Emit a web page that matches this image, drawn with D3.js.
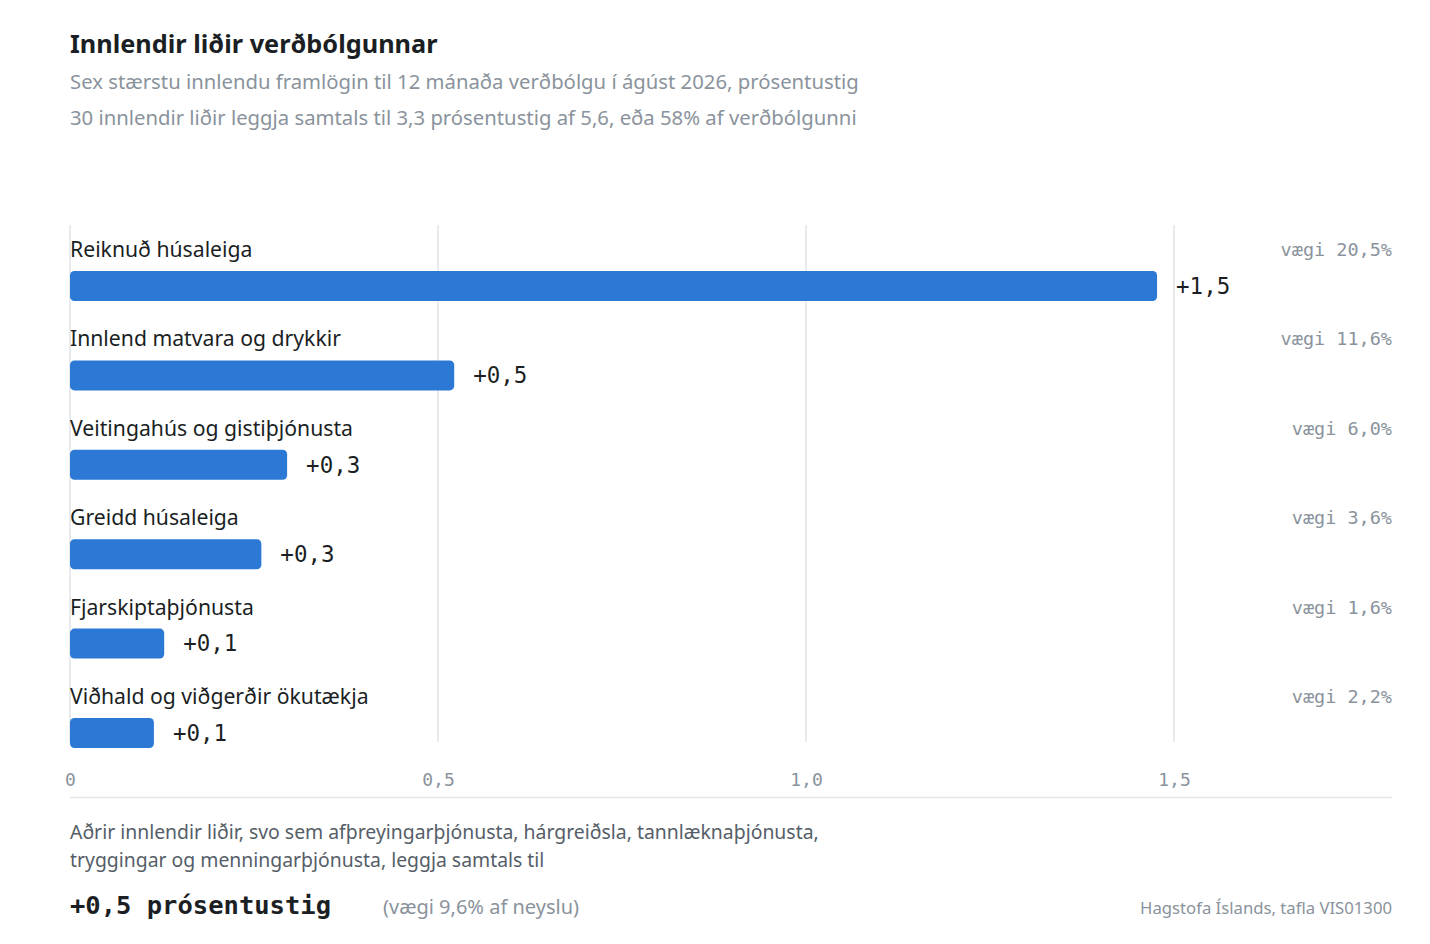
<!DOCTYPE html>
<html><head><meta charset="utf-8">
<script src="https://cdn.jsdelivr.net/npm/d3@7"></script>
<style>
body{margin:0;background:#fff;}
svg{display:block;}
</style></head>
<body>
<svg id="chart" width="1430" height="944"></svg>
<script>
const categories = ["Reiknuð húsaleiga","Innlend matvara og drykkir","Veitingahús og gistiþjónusta","Greidd húsaleiga","Fjarskiptaþjónusta","Viðhald og viðgerðir ökutækja"];
const values = [1.477, 0.522, 0.295, 0.26, 0.128, 0.114];
const valueLabels = ["+1,5","+0,5","+0,3","+0,3","+0,1","+0,1"];
const weights = ["vægi 20,5%","vægi 11,6%","vægi 6,0%","vægi 3,6%","vægi 1,6%","vægi 2,2%"];
const ticks = [0, 0.5, 1.0, 1.5];
const tickLabels = ["0","0,5","1,0","1,5"];

const SANS = "'Noto Sans', 'Open Sans', sans-serif";
const MONO = "'DejaVu Sans Mono', 'Liberation Mono', monospace";
const svg = d3.select("#chart");
const left = 70, right = 1392;

const x = d3.scaleLinear().domain([0, 1.8]).range([left, left + 1.8*736]);
const y = d3.scaleBand().domain(categories).range([233, 233 + 6*89.4]).paddingInner(0);

// Title block
svg.append("text").attr("x", left).attr("y", 53).text("Innlendir liðir verðbólgunnar")
  .attr("font-family", SANS).attr("font-size", 25.3).attr("font-weight", 700).attr("fill", "#1b1f24");
svg.append("text").attr("x", left).attr("y", 89).text("Sex stærstu innlendu framlögin til 12 mánaða verðbólgu í ágúst 2026, prósentustig")
  .attr("font-family", SANS).attr("font-size", 20.3).attr("fill", "#8a939c");
svg.append("text").attr("x", left).attr("y", 125).text("30 innlendir liðir leggja samtals til 3,3 prósentustig af 5,6, eða 58% af verðbólgunni")
  .attr("font-family", SANS).attr("font-size", 20.3).attr("fill", "#8a939c");

// Gridlines
svg.append("g").selectAll("line").data(ticks).join("line")
  .attr("x1", d => x(d)).attr("x2", d => x(d))
  .attr("y1", 225).attr("y2", 742)
  .attr("stroke", "#e1e4e8").attr("stroke-width", 1.5);

// Axis
const axis = d3.axisBottom(x).tickValues(ticks).tickFormat((d,i) => tickLabels[i]).tickSize(0).tickPadding(0);
const ag = svg.append("g").attr("transform", "translate(0,786)").call(axis);
ag.select(".domain").remove();
ag.selectAll("text").attr("font-family", MONO).attr("font-size", 18).attr("fill", "#8a939c").attr("dy", 0);
svg.append("line").attr("x1", left).attr("x2", right).attr("y1", 797.5).attr("y2", 797.5)
  .attr("stroke", "#e1e4e8").attr("stroke-width", 1.5);

// Rows
const rows = svg.append("g").selectAll("g").data(categories).join("g")
  .attr("transform", d => `translate(0,${y(d)})`);

rows.append("text").attr("x", left).attr("y", 24).text(d => d)
  .attr("font-family", SANS).attr("font-size", 21.2).attr("fill", "#1b1f24");

rows.append("text").attr("x", right).attr("y", 23).attr("text-anchor", "end").text((d,i) => weights[i])
  .attr("font-family", MONO).attr("font-size", 18.5).attr("fill", "#8a939c");

rows.append("rect").attr("x", x(0)).attr("y", 38).attr("height", 30)
  .attr("width", (d,i) => x(values[i]) - x(0)).attr("rx", 4.5).attr("ry", 4.5)
  .attr("fill", "#2b78d5");

rows.append("text").attr("x", (d,i) => x(values[i]) + 19).attr("y", 53).attr("dy", "0.35em")
  .text((d,i) => valueLabels[i])
  .attr("font-family", MONO).attr("font-size", 22.5).attr("fill", "#1b1f24");

// Footer
svg.append("text").attr("x", left).attr("y", 839).text("Aðrir innlendir liðir, svo sem afþreyingarþjónusta, hárgreiðsla, tannlæknaþjónusta,")
  .attr("font-family", SANS).attr("font-size", 19.4).attr("fill", "#555e68");
svg.append("text").attr("x", left).attr("y", 867).text("tryggingar og menningarþjónusta, leggja samtals til")
  .attr("font-family", SANS).attr("font-size", 19.4).attr("fill", "#555e68");
svg.append("text").attr("x", left).attr("y", 914).text("+0,5 prósentustig")
  .attr("font-family", MONO).attr("font-size", 25.5).attr("font-weight", 700).attr("fill", "#1b1f24");
svg.append("text").attr("x", 383).attr("y", 914).text("(vægi 9,6% af neyslu)")
  .attr("font-family", SANS).attr("font-size", 20).attr("fill", "#8a939c");
svg.append("text").attr("x", right).attr("y", 914).attr("text-anchor", "end").text("Hagstofa Íslands, tafla VIS01300")
  .attr("font-family", SANS).attr("font-size", 16.7).attr("fill", "#8a939c");
</script>
</body></html>
